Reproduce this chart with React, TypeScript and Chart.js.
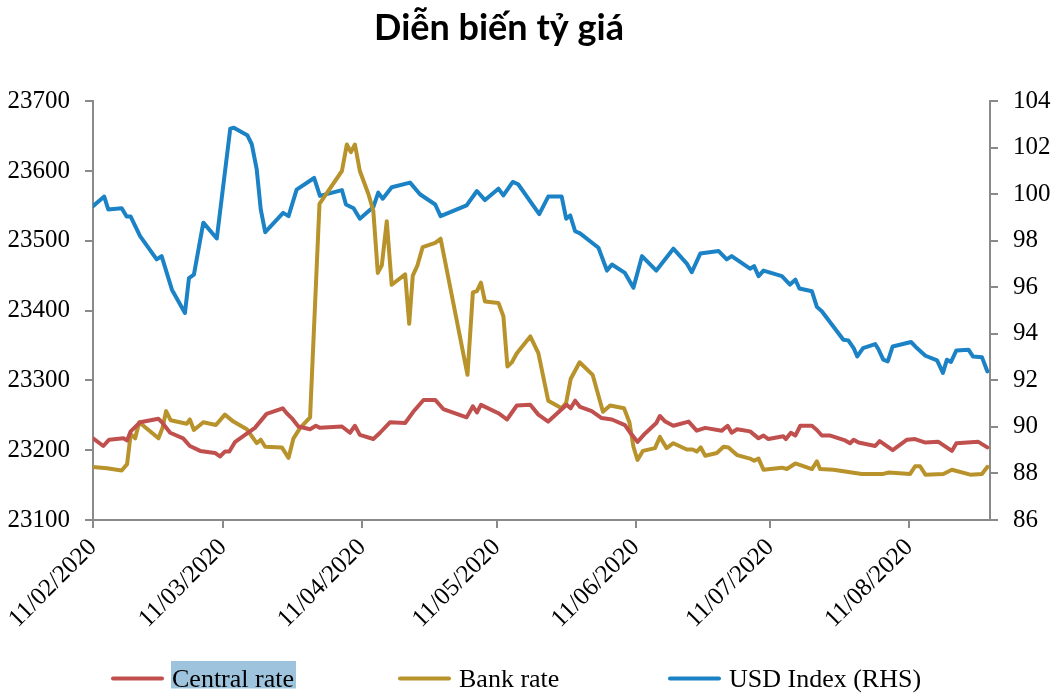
import React, { useEffect, useRef } from "react";
import { Chart, registerables } from "chart.js";

Chart.register(...registerables);

// x values are days since 11/02/2020
const tickDays = [0, 29, 60, 90, 121, 151, 182];
const tickLabels = ["11/02/2020", "11/03/2020", "11/04/2020", "11/05/2020", "11/06/2020", "11/07/2020", "11/08/2020"];

const seriesNames = ["Central rate", "Bank rate", "USD Index (RHS)"];
const seriesColors = ["#C0504D", "#B8922A", "#1B82C5"];

const centralDays = [0, 2.3, 3.6, 6.8, 7.6, 8.4, 10.5, 14.6, 15.5, 17.2, 20.1, 21.6, 23.9, 27.2, 28.3, 29.4, 30.4, 31.7, 36.1, 38.7, 42.3, 43.2, 44.3, 45.8, 48.4, 49.7, 50.6, 55.5, 57.3, 58.4, 59.5, 62.5, 64, 66.2, 69.6, 71.4, 73.7, 76.3, 78.1, 83.3, 84.7, 85.6, 86.5, 90.4, 92.3, 94.5, 97.5, 99.3, 101.5, 105.6, 106.5, 107.5, 108.6, 111.2, 113.4, 115.7, 118.6, 119.8, 121.4, 123.1, 125.6, 126.4, 127.6, 129.4, 132.8, 134.6, 136.5, 140.2, 141.5, 142.4, 143.6, 146.5, 148.4, 149.5, 150.6, 153.9, 154.5, 155.6, 156.6, 157.7, 160.3, 161.4, 162.5, 164.4, 167.7, 168.8, 169.6, 170.7, 174.4, 175.4, 178.3, 181.5, 183.3, 185.6, 188.5, 191.5, 192.5, 197.4, 199.4];
const centralRate = [23217, 23206, 23215, 23217, 23214, 23227, 23240, 23245, 23239, 23225, 23217, 23206, 23199, 23196, 23191, 23198, 23198, 23212, 23232, 23252, 23260, 23253, 23246, 23234, 23230, 23235, 23232, 23234, 23225, 23235, 23222, 23216, 23225, 23240, 23239, 23255, 23272, 23272, 23259, 23247, 23263, 23254, 23265, 23253, 23244, 23264, 23265, 23251, 23241, 23265, 23260, 23271, 23262, 23256, 23246, 23244, 23236, 23225, 23212, 23224, 23239, 23249, 23241, 23235, 23241, 23228, 23232, 23228, 23235, 23225, 23230, 23227, 23217, 23221, 23216, 23220, 23216, 23225, 23221, 23235, 23235, 23229, 23221, 23221, 23214, 23210, 23215, 23211, 23206, 23213, 23200, 23215, 23216, 23211, 23212, 23199, 23210, 23212, 23204];

const bankDays = [0, 3.1, 6.4, 7.6, 8.4, 9.4, 10.3, 14.6, 15.5, 16.3, 17.3, 20.9, 21.6, 22.5, 24.6, 27.4, 29.4, 31.3, 34.3, 36.5, 37.4, 38.4, 42.1, 43.6, 44.7, 46.2, 48.4, 50.5, 55.5, 56.6, 57.5, 58.4, 59.5, 61.4, 62.5, 63.5, 64.4, 65.5, 66.6, 69.6, 70.5, 71.3, 72.3, 73.5, 76.3, 77.5, 83.5, 84.7, 85.6, 86.5, 87.4, 90.4, 91.5, 92.4, 93.4, 94.5, 97.5, 99.3, 101.5, 104.5, 105.5, 106.5, 108.5, 111.4, 113.7, 115.3, 118.4, 119.6, 120.5, 121.4, 122.6, 125.3, 126.4, 127.9, 129.4, 132.4, 133.7, 134.6, 135.5, 136.5, 139.1, 140.6, 141.7, 143.6, 146.5, 147.4, 148.4, 149.5, 153.6, 154.7, 156.6, 160.3, 161.4, 162.1, 165.1, 171.4, 176.2, 177.4, 182.2, 183.3, 184.4, 185.6, 189.6, 191.5, 195.6, 198.2, 199.4];
const bankRate = [23176, 23174, 23171, 23180, 23223, 23217, 23240, 23217, 23232, 23256, 23243, 23238, 23244, 23229, 23240, 23236, 23251, 23241, 23230, 23210, 23215, 23205, 23204, 23189, 23217, 23232, 23247, 23553, 23600, 23638, 23627, 23638, 23600, 23567, 23543, 23454, 23465, 23528, 23437, 23452, 23381, 23450, 23464, 23491, 23497, 23503, 23308, 23426, 23428, 23440, 23413, 23411, 23392, 23320, 23326, 23339, 23363, 23339, 23271, 23260, 23268, 23302, 23326, 23308, 23255, 23264, 23260, 23240, 23205, 23186, 23199, 23203, 23219, 23203, 23210, 23201, 23201, 23198, 23204, 23192, 23196, 23205, 23204, 23193, 23188, 23185, 23188, 23172, 23175, 23173, 23181, 23173, 23184, 23173, 23172, 23166, 23166, 23168, 23166, 23177, 23177, 23165, 23166, 23172, 23165, 23166, 23176];

const usdDays = [0, 2.5, 3.4, 6.4, 7.5, 8.4, 10.5, 14.2, 15.3, 17.6, 20.5, 21.4, 22.5, 24.6, 27.6, 30.6, 31.4, 34.4, 35.4, 36.5, 37.4, 38.4, 42.4, 43.6, 45.4, 49.3, 50.6, 55.5, 56.4, 58.1, 59.5, 62.5, 63.6, 64.6, 66.6, 70.7, 72.9, 76.3, 77.5, 83.3, 85.6, 87.4, 90.4, 91.5, 93.6, 94.8, 99.5, 101.5, 104.5, 105.5, 106.4, 107.5, 108.6, 112.7, 114.6, 115.7, 118.6, 120.5, 122.4, 125.6, 129.4, 132.4, 133.5, 135.4, 139.5, 141.3, 142.4, 146.5, 147.4, 148.4, 149.5, 153.6, 155.4, 156.6, 157.5, 160.3, 161.4, 162.5, 167.3, 168.4, 169.6, 170.4, 171.7, 174.4, 175.1, 176.2, 177.2, 178.3, 182.4, 183.7, 185.6, 188.2, 189.5, 190.4, 191.3, 192.5, 195.2, 196.2, 198.2, 199.4];
const usdIndex = [99.49, 99.9, 99.35, 99.4, 99.04, 99.04, 98.2, 97.2, 97.34, 95.9, 94.9, 96.4, 96.55, 98.78, 98.1, 102.82, 102.86, 102.54, 102.15, 101.08, 99.35, 98.37, 99.2, 99.06, 100.2, 100.7, 99.93, 100.18, 99.56, 99.4, 98.95, 99.45, 100.07, 99.81, 100.3, 100.5, 100.0, 99.56, 99.06, 99.52, 100.14, 99.75, 100.24, 99.95, 100.53, 100.43, 99.15, 99.9, 99.9, 98.95, 99.09, 98.41, 98.32, 97.7, 96.72, 96.98, 96.62, 95.98, 97.34, 96.72, 97.66, 97.02, 96.65, 97.45, 97.56, 97.2, 97.34, 96.8, 96.91, 96.48, 96.72, 96.48, 96.12, 96.33, 95.95, 95.83, 95.16, 94.97, 93.75, 93.72, 93.39, 93.03, 93.39, 93.56, 93.35, 92.89, 92.82, 93.46, 93.65, 93.39, 93.06, 92.86, 92.32, 92.89, 92.79, 93.29, 93.32, 93.03, 93.0, 92.39];

const legendStarts = [111, 398, 668];

const toPoints = (xs: number[], ys: number[]) => xs.map((x, i) => ({ x, y: ys[i] }));

const AXIS_COLOR = "#8a8a8a";
const SERIF = "'Liberation Serif', 'Times New Roman', serif";

// The title sits a little left of the canvas centre in the reference.
const titleShiftPlugin = {
  id: "titleShift",
  afterLayout(chart: any) {
    const t = chart.titleBlock;
    if (t) {
      t.right -= 60;
    }
  },
};

const legendPlugin = {
  id: "bottomLegend",
  afterDraw(chart: any) {
    const ctx = chart.ctx;
    ctx.save();
    ctx.font = `26px ${SERIF}`;
    ctx.textBaseline = "alphabetic";
    ctx.textAlign = "left";
    chart.data.datasets.forEach((ds: any, i: number) => {
      const x0 = legendStarts[i];
      const y = 678.5;
      ctx.strokeStyle = ds.borderColor;
      ctx.lineWidth = 4;
      ctx.lineCap = "round";
      ctx.beginPath();
      ctx.moveTo(x0 + 2, y);
      ctx.lineTo(x0 + 51, y);
      ctx.stroke();
      const tx = x0 + 61;
      const w = ctx.measureText(ds.label).width;
      if (i === 0) {
        ctx.fillStyle = "#9DC3DD";
        ctx.fillRect(tx - 1, 661, w + 3, 27.5);
      }
      ctx.fillStyle = "#000";
      ctx.fillText(ds.label, tx, 686.5);
    });
    ctx.restore();
  },
};

export default function App() {
  const canvasRef = useRef<HTMLCanvasElement | null>(null);

  useEffect(() => {
    document.body.style.margin = "0";
    const canvas = canvasRef.current;
    if (!canvas) return;
    const lineStyle = (i: number) => ({
      label: seriesNames[i],
      borderColor: seriesColors[i],
      backgroundColor: seriesColors[i],
      borderWidth: 4,
      pointRadius: 0,
      tension: 0,
      borderJoinStyle: "round" as const,
      borderCapStyle: "round" as const,
    });
    const plainTick = (value: any) => String(value);
    const chart = new Chart(canvas, {
      type: "line",
      data: {
        datasets: [
          { ...lineStyle(0), data: toPoints(centralDays, centralRate), yAxisID: "y" },
          { ...lineStyle(1), data: toPoints(bankDays, bankRate), yAxisID: "y" },
          { ...lineStyle(2), data: toPoints(usdDays, usdIndex), yAxisID: "y1" },
        ],
      },
      options: {
        animation: false,
        responsive: false,
        maintainAspectRatio: false,
        layout: { padding: 0 },
        plugins: {
          legend: { display: false },
          tooltip: { enabled: false },
          title: {
            display: true,
            text: "Diễn biến tỷ giá",
            color: "#000",
            font: { family: "Lato, 'Open Sans', sans-serif", weight: "bold", size: 36, lineHeight: 1.2 },
            padding: { top: 7, bottom: 51 },
          },
        },
        scales: {
          x: {
            type: "linear",
            position: "bottom",
            min: 0,
            max: 200,
            afterBuildTicks: (scale: any) => {
              scale.ticks = tickDays.map((v) => ({ value: v }));
            },
            afterFit: (scale: any) => {
              scale.height = 177;
            },
            grid: { drawOnChartArea: false, drawTicks: true, tickLength: 8, color: AXIS_COLOR, lineWidth: 2 },
            border: { display: true, color: AXIS_COLOR, width: 2 },
            ticks: {
              autoSkip: false,
              maxRotation: 45,
              minRotation: 45,
              padding: 5,
              color: "#000",
              font: { family: SERIF, size: 25 },
              callback: (value: any) => {
                const idx = tickDays.indexOf(Number(value));
                return idx >= 0 ? tickLabels[idx] : "";
              },
            },
          },
          y: {
            type: "linear",
            position: "left",
            min: 23100,
            max: 23700,
            afterFit: (scale: any) => {
              scale.width = 93;
            },
            grid: { drawOnChartArea: false, drawTicks: true, tickLength: 8, color: AXIS_COLOR, lineWidth: 2 },
            border: { display: true, color: AXIS_COLOR, width: 2 },
            ticks: { stepSize: 100, padding: 15, color: "#000", font: { family: SERIF, size: 25 }, callback: plainTick },
          },
          y1: {
            type: "linear",
            position: "right",
            min: 86,
            max: 104,
            afterFit: (scale: any) => {
              scale.width = 68;
            },
            grid: { drawOnChartArea: false, drawTicks: true, tickLength: 8, color: AXIS_COLOR, lineWidth: 2 },
            border: { display: true, color: AXIS_COLOR, width: 2 },
            ticks: { stepSize: 2, padding: 15, color: "#000", font: { family: SERIF, size: 25 }, callback: plainTick },
          },
        },
      },
      plugins: [titleShiftPlugin, legendPlugin],
    });
    return () => chart.destroy();
  }, []);

  return (
    <div style={{ width: 1058, height: 697, background: "#fff" }}>
      <canvas ref={canvasRef} width={1058} height={697} style={{ display: "block" }} />
    </div>
  );
}
